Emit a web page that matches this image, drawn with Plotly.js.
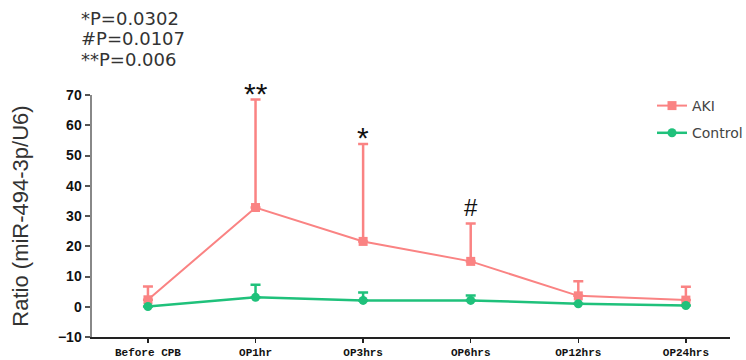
<!DOCTYPE html>
<html><head><meta charset="utf-8">
<script src="https://cdn.plot.ly/plotly-3.0.1.min.js"></script>
<style>body{margin:0;background:#fff}#c{width:746px;height:360px}</style>
</head><body><div id="c"></div>
<script>
const categories = ["Before CPB","OP1hr","OP3hrs","OP6hrs","OP12hrs","OP24hrs"];
const akiMean = [2.3, 32.8, 21.6, 15.0, 3.6, 2.2];
const akiErr  = [4.4, 35.7, 32.2, 12.5, 4.8, 4.4];
const ctrlMean = [0.1, 3.1, 2.1, 2.1, 1.0, 0.4];
const ctrlErr  = [0.0, 4.2, 2.6, 1.6, 0.0, 0.0];
const yTicks = [-10,0,10,20,30,40,50,60,70];
const sigLabels = ["", "**", "*", "#", "", ""];
const pTexts = ["*P=0.0302", "#P=0.0107", "**P=0.006"];

const xIdx = categories.map((c,i)=>i);
const akiColor = "#fa8383", ctrlColor = "#1fc17b";
const W = 746, H = 360, L = 92, R = 16, T = 95, B = 23;
const px2x = p => (p - L)/(W-L-R);
const px2y = p => 1 - (p - T)/(H-T-B);

const traces = [
  {x: xIdx, y: akiMean, name: "AKI", legendgroup: "a", type: "scatter", mode: "lines+markers",
   line: {color: akiColor, width: 2}, marker: {symbol: "square", size: 9, color: akiColor},
   error_y: {type: "data", symmetric: false, array: akiErr, arrayminus: akiErr.map(()=>0),
             color: akiColor, thickness: 2.5, width: 5}},
  {x: xIdx, y: ctrlMean, name: "Control", legendgroup: "b", type: "scatter", mode: "lines+markers",
   line: {color: ctrlColor, width: 2.5}, marker: {symbol: "circle", size: 9, color: ctrlColor},
   error_y: {type: "data", symmetric: false, array: ctrlErr, arrayminus: ctrlErr.map(()=>0),
             color: ctrlColor, thickness: 2.5, width: 5}}
];

const sigPixY = [null, 94, 137, 207, null, null];
const annotations = [];
sigLabels.forEach((s,i)=>{ if(s) annotations.push({x: i, xref: "x", y: px2y(sigPixY[i]), yref: "paper", text: s,
  showarrow: false, yanchor: "middle",
  font: {family: "Liberation Sans, Arial", size: s==="#" ? 24 : 30, color: "#111"}}); });
pTexts.forEach((t,i)=>annotations.push({x: px2x(80), y: px2y(18 + i*20.5), xref: "paper", yref: "paper", text: t,
  showarrow: false, xanchor: "left", yanchor: "middle", borderpad: 0,
  font: {family: "DejaVu Sans, sans-serif", size: 18, color: "#333"}}));

const layout = {
  width: W, height: H, margin: {l: L, r: R, t: T, b: B, autoexpand: false},
  paper_bgcolor: "#fff", plot_bgcolor: "#fff",
  showlegend: true,
  legend: {x: px2x(652), y: px2y(90), xanchor: "left", yanchor: "top", traceorder: "grouped",
           font: {family: "DejaVu Sans, sans-serif", size: 14, color: "#444"}, bgcolor: "rgba(0,0,0,0)",
           itemwidth: 30, tracegroupgap: 6},
  xaxis: {range: [-0.52, 5.41], tickvals: xIdx, ticktext: categories, showgrid: false, zeroline: false,
          showline: true, linecolor: "#222", linewidth: 2, ticks: "outside", ticklen: 4, tickwidth: 1.5, tickcolor: "#222",
          automargin: false,
          tickfont: {family: "Liberation Mono, monospace", size: 11, color: "#111", weight: "bold"}, fixedrange: true},
  yaxis: {range: [-10, 70], tickvals: yTicks, showgrid: false, zeroline: false, automargin: false,
          showline: true, linecolor: "#888", linewidth: 2.5, ticks: "outside", ticklen: 5, tickwidth: 2, tickcolor: "#555",
          tickfont: {family: "Liberation Sans, Arial", size: 14, color: "#111", weight: "bold"},
          title: {text: "Ratio (miR-494-3p/U6)", font: {family: "Liberation Sans, Arial", size: 22, color: "#333"}, standoff: 24}},
  annotations: annotations
};
Plotly.newPlot("c", traces, layout, {displayModeBar: false, staticPlot: true});
</script></body></html>
